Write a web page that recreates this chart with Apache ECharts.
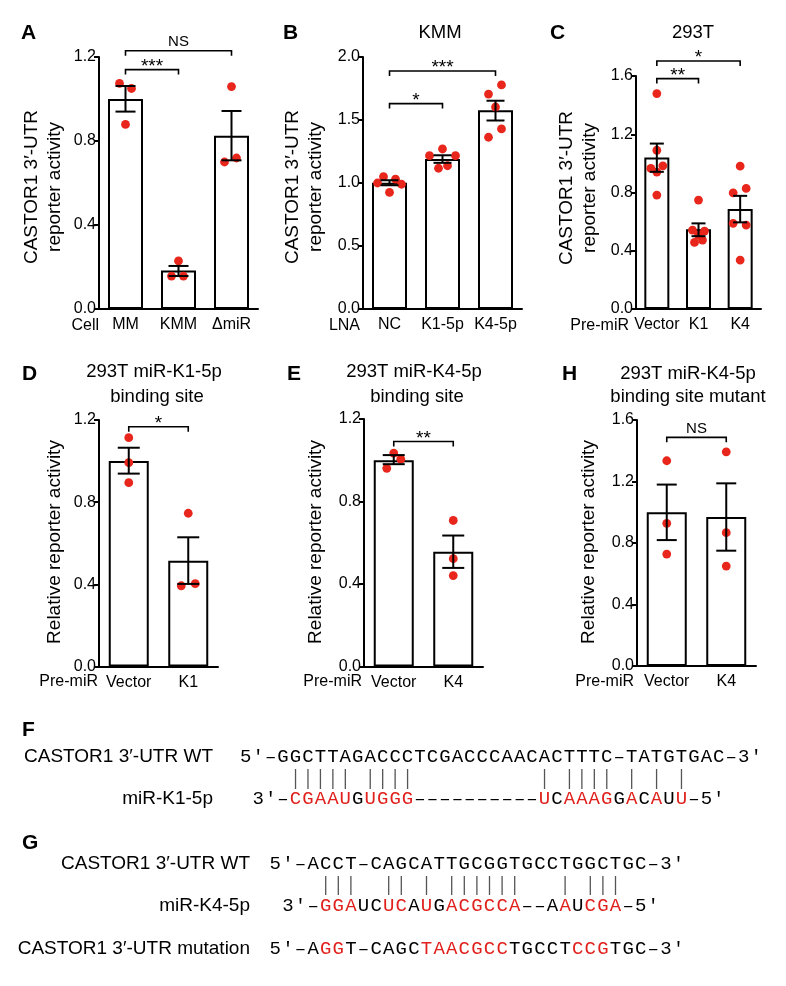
<!DOCTYPE html>
<html><head><meta charset="utf-8">
<script src="https://cdn.jsdelivr.net/npm/echarts@6/dist/echarts.min.js"></script>
<style>html,body{margin:0;padding:0;background:#fff}#c{width:786px;height:986px}</style>
</head><body><div id="c"></div><script>
// ---------------- DATA ----------------
// Panel A
const A_categories = ['MM', 'KMM', 'ΔmiR'];
const A_means = [1.00, 0.183, 0.825];
const A_errLow = [0.940, 0.157, 0.708];
const A_errHigh = [1.062, 0.205, 0.943];
const A_points = [[1.074, 1.050, 0.879], [0.229, 0.157, 0.157], [1.059, 0.700, 0.719]];
const A_yTicks = [0.0, 0.4, 0.8, 1.2];
const A_sigPairs = [[0, 2], [0, 1]];
const A_sigLevels = [1.23, 1.14];
const A_sigLabels = ['NS', '***'];

// Panel B
const B_categories = ['NC', 'K1-5p', 'K4-5p'];
const B_means = [1.002, 1.190, 1.577];
const B_errLow = [0.982, 1.160, 1.496];
const B_errHigh = [1.022, 1.220, 1.653];
const B_points = [[1.00, 1.05, 0.925, 1.03, 0.99], [1.217, 1.27, 1.217, 1.117, 1.137], [1.706, 1.778, 1.603, 1.429, 1.363]];
const B_yTicks = [0.0, 0.5, 1.0, 1.5, 2.0];
const B_sigPairs = [[0, 2], [0, 1]];
const B_sigLevels = [1.889, 1.63];
const B_sigLabels = ['***', '*'];

// Panel C
const C_categories = ['Vector', 'K1', 'K4'];
const C_means = [1.040, 0.547, 0.686];
const C_errLow = [0.942, 0.500, 0.595];
const C_errHigh = [1.136, 0.588, 0.777];
const C_points = [[1.479, 1.09, 0.965, 0.983, 0.782, 0.94], [0.748, 0.542, 0.535, 0.457, 0.473, 0.508], [0.981, 0.798, 0.828, 0.588, 0.576, 0.336]];
const C_yTicks = [0.0, 0.4, 0.8, 1.2, 1.6];
const C_sigPairs = [[0, 2], [0, 1]];
const C_sigLevels = [1.703, 1.582];
const C_sigLabels = ['*', '**'];

// Panel D
const D_categories = ['Vector', 'K1'];
const D_means = [1.000, 0.515];
const D_errLow = [0.939, 0.402];
const D_errHigh = [1.065, 0.629];
const D_points = [[1.114, 0.992, 0.895], [0.746, 0.393, 0.403]];
const D_yTicks = [0.0, 0.4, 0.8, 1.2];
const D_sigPairs = [[0, 1]];
const D_sigLevels = [1.167];
const D_sigLabels = ['*'];

// Panel E
const E_categories = ['Vector', 'K4'];
const E_means = [1.000, 0.556];
const E_errLow = [0.981, 0.478];
const E_errHigh = [1.025, 0.635];
const E_points = [[1.035, 1.005, 0.961], [0.708, 0.523, 0.441]];
const E_yTicks = [0.0, 0.4, 0.8, 1.2];
const E_sigPairs = [[0, 1]];
const E_sigLevels = [1.091];
const E_sigLabels = ['**'];

// Panel H
const H_categories = ['Vector', 'K4'];
const H_means = [1.000, 0.969];
const H_errLow = [0.819, 0.750];
const H_errHigh = [1.180, 1.188];
const H_points = [[1.335, 0.928, 0.728], [1.393, 0.867, 0.650]];
const H_yTicks = [0.0, 0.4, 0.8, 1.2, 1.6];
const H_sigPairs = [[0, 1]];
const H_sigLevels = [1.487];
const H_sigLabels = ['NS'];

// Sequences (F, G)
const F_wt = "5′-GGCTTAGACCCTCGACCCAACACTTTC-TATGTGAC-3′";
const F_mir = "3′-CGAAUGUGGG----------UCAAAGGACAUU-5′";
const F_mirRed = "...rrrrr.rrrr..........r.rrrr.r.r.r...";
const F_pairs = [4, 5, 6, 7, 8, 10, 11, 12, 13, 24, 26, 27, 28, 29, 31, 33, 35];
const G_wt = "5′-ACCT-CAGCATTGCGGTGCCTGGCTGC-3′";
const G_mir = "3′-GGAUCUCAUGACGCCA--AAUCGA-5′";
const G_mirRed = "...rrr..rr.r.rrrrrr...r.rrr...";
const G_mut = "5′-AGGT-CAGCTAACGCCTGCCTCCGTGC-3′";
const G_mutRed = "....rr......rrrrrrr.....rrr......";
const G_pairs = [4, 5, 6, 9, 10, 12, 14, 15, 16, 17, 18, 19, 23, 25, 26, 27];

// ---------------- LAYOUT / STYLE ----------------
const RED = '#e8261b';
const SEQ_RED = '#e0201c';
const SANS = "'Liberation Sans', Arial, Helvetica, sans-serif";
const NARROW = "'Liberation Sans Narrow', 'Liberation Sans', Arial, sans-serif";
const MONO = "'Liberation Mono', 'DejaVu Sans Mono', monospace";

const A_jitter = [[-6, 6, 0], [0, -7, 5], [0, -7, 5]];
const B_jitter = [[-12, -6, 0, 6, 12], [-13, 0, 13, -4, 5], [-7, 6, 0, 6, -7]];
const C_jitter = [[0, 0, -6, 6, 0, 0], [0, -6, 6, -4, 4, 0], [0, -7, 6, -7, 6, 0]];
const D_jitter = [[0, 0, 0], [0, -7, 7]];
const E_jitter = [[0, 7, -7], [0, 0, 0]];
const H_jitter = [[0, 0, 0], [0, 0, 0]];

const panels = [
  {cats: A_categories, means: A_means, lo: A_errLow, hi: A_errHigh, pts: A_points, jit: A_jitter, ticks: A_yTicks,
   sp: A_sigPairs, sl: A_sigLevels, st: A_sigLabels, grid: {left: 99, top: 57, width: 159, height: 252}, barW: 35, capW: 20, font: SANS},
  {cats: B_categories, means: B_means, lo: B_errLow, hi: B_errHigh, pts: B_points, jit: B_jitter, ticks: B_yTicks,
   sp: B_sigPairs, sl: B_sigLevels, st: B_sigLabels, grid: {left: 363, top: 57, width: 159, height: 252}, barW: 35, capW: 18, font: SANS},
  {cats: C_categories, means: C_means, lo: C_errLow, hi: C_errHigh, pts: C_points, jit: C_jitter, ticks: C_yTicks,
   sp: C_sigPairs, sl: C_sigLevels, st: C_sigLabels, grid: {left: 636, top: 76, width: 125, height: 233}, barW: 25, capW: 14, font: SANS},
  {cats: D_categories, means: D_means, lo: D_errLow, hi: D_errHigh, pts: D_points, jit: D_jitter, ticks: D_yTicks,
   sp: D_sigPairs, sl: D_sigLevels, st: D_sigLabels, grid: {left: 99, top: 420, width: 119, height: 246.5}, barW: 40, capW: 22, font: NARROW},
  {cats: E_categories, means: E_means, lo: E_errLow, hi: E_errHigh, pts: E_points, jit: E_jitter, ticks: E_yTicks,
   sp: E_sigPairs, sl: E_sigLevels, st: E_sigLabels, grid: {left: 364, top: 419, width: 119, height: 247.5}, barW: 40, capW: 22, font: NARROW},
  {cats: H_categories, means: H_means, lo: H_errLow, hi: H_errHigh, pts: H_points, jit: H_jitter, ticks: H_yTicks,
   sp: H_sigPairs, sl: H_sigLevels, st: H_sigLabels, grid: {left: 637, top: 420, width: 119, height: 246}, barW: 40, capW: 20, font: NARROW}
];

const grids = [], xAxes = [], yAxes = [], series = [];
panels.forEach((p, i) => {
  grids.push(Object.assign({}, p.grid));
  xAxes.push({
    type: 'category', gridIndex: i, data: p.cats,
    axisLine: {lineStyle: {color: '#000', width: 2}},
    axisTick: {show: false},
    axisLabel: {color: '#000', fontSize: 16, margin: 8, interval: 0, fontFamily: p.font}
  });
  yAxes.push({
    type: 'value', gridIndex: i, min: p.ticks[0], max: p.ticks[p.ticks.length - 1],
    interval: p.ticks[1] - p.ticks[0],
    axisLine: {show: true, lineStyle: {color: '#000', width: 2}},
    axisTick: {show: true, length: 5, lineStyle: {color: '#000', width: 2}},
    axisLabel: {color: '#000', fontSize: 16, margin: 3, fontFamily: p.font, formatter: v => v.toFixed(1)},
    splitLine: {show: false}
  });
  series.push({
    type: 'bar', xAxisIndex: i, yAxisIndex: i, data: p.means, barWidth: p.barW, silent: true, z: 2,
    itemStyle: {color: '#fff', borderColor: '#000', borderWidth: 2}
  });
  const dots = [];
  p.pts.forEach((arr, c) => arr.forEach((v, k) => dots.push([c, v, p.jit[c][k]])));
  series.push({
    type: 'custom', xAxisIndex: i, yAxisIndex: i, data: dots, z: 3, silent: true, encode: {x: 0, y: 1},
    renderItem: (params, api) => {
      const pt = api.coord([api.value(0), api.value(1)]);
      return {type: 'circle', shape: {cx: pt[0] + api.value(2), cy: pt[1], r: 4.4}, style: {fill: RED}};
    }
  });
  const cap = p.capW / 2;
  series.push({
    type: 'custom', xAxisIndex: i, yAxisIndex: i, z: 4, silent: true, encode: {x: 0, y: [1, 2]},
    data: p.means.map((m, c) => [c, p.lo[c], p.hi[c]]),
    renderItem: (params, api) => {
      const a = api.coord([api.value(0), api.value(1)]);
      const b = api.coord([api.value(0), api.value(2)]);
      const st = {stroke: '#000', lineWidth: 2};
      return {type: 'group', children: [
        {type: 'line', shape: {x1: a[0], y1: a[1], x2: b[0], y2: b[1]}, style: st},
        {type: 'line', shape: {x1: a[0] - cap, y1: a[1], x2: a[0] + cap, y2: a[1]}, style: st},
        {type: 'line', shape: {x1: b[0] - cap, y1: b[1], x2: b[0] + cap, y2: b[1]}, style: st}
      ]};
    }
  });
  series.push({
    type: 'custom', xAxisIndex: i, yAxisIndex: i, z: 5, silent: true, clip: false, encode: {x: 0, y: 1},
    data: p.sp.map((pr, k) => [pr[0], p.sl[k], pr[1]]),
    renderItem: (params, api) => {
      const a = api.coord([api.value(0), api.value(1)]);
      const b = api.coord([api.value(2), api.value(1)]);
      const lab = p.st[params.dataIndex];
      const isNS = lab === 'NS';
      const st = {stroke: '#000', lineWidth: 1.6, fill: null};
      return {type: 'group', children: [
        {type: 'polyline', shape: {points: [[a[0], a[1] + 5], [a[0], a[1]], [b[0], b[1]], [b[0], b[1] + 5]]}, style: st},
        {type: 'text', x: (a[0] + b[0]) / 2, y: isNS ? a[1] - 9 : a[1] - 3,
         style: {text: lab, fill: '#000', fontFamily: SANS, fontSize: isNS ? 15 : 19,
                 align: 'center', verticalAlign: 'middle', textAlign: 'center', textVerticalAlign: 'middle'}}
      ]};
    }
  });
});

// ---------------- TEXT GRAPHICS ----------------
const graphics = [];
function txt(text, x, y, o) {
  o = o || {};
  graphics.push({
    type: 'text', x: x, y: y, rotation: o.rot || 0, silent: true,
    style: {text: text, fill: o.fill || '#000', fontFamily: o.font || SANS, fontSize: o.size || 19,
            fontWeight: o.weight || 'normal', align: o.align || 'center', verticalAlign: 'middle',
            textAlign: o.align || 'center', textVerticalAlign: 'middle'}
  });
}
// panel letters
[['A', 21, 33], ['B', 283, 33], ['C', 550, 33], ['D', 22, 374], ['E', 287, 374], ['H', 562, 374], ['F', 22, 730], ['G', 22, 843]]
  .forEach(l => txt(l[0], l[1], l[2], {align: 'left', weight: 'bold', size: 21}));
// titles
txt('KMM', 440, 33, {size: 18.5});
txt('293T', 693, 33, {size: 18.5});
txt('293T miR-K1-5p', 154, 372, {size: 18.5});
txt('binding site', 157, 397, {size: 18.5});
txt('293T miR-K4-5p', 414, 372, {size: 18.5});
txt('binding site', 417, 397, {size: 18.5});
txt('293T miR-K4-5p', 688, 374, {size: 18.5});
txt('binding site mutant', 688, 397, {size: 18.5});
// y axis titles
const R = Math.PI / 2;
[[32, 55, 187], [293, 316, 187], [567, 590, 188]].forEach(t => {
  txt('CASTOR1 3′-UTR', t[0], t[2], {rot: R});
  txt('reporter activity', t[1], t[2], {rot: R});
});
[[55, 542], [316, 542], [589, 542]].forEach(t => txt('Relative reporter activity', t[0], t[1], {rot: R}));
// row labels of x axes
txt('Cell', 99, 326, {align: 'right', size: 16});
txt('LNA', 360, 326, {align: 'right', size: 16});
txt('Pre-miR', 629, 326, {align: 'right', size: 16});
txt('Pre-miR', 98, 682, {align: 'right', size: 16, font: NARROW});
txt('Pre-miR', 362, 682, {align: 'right', size: 16, font: NARROW});
txt('Pre-miR', 634, 682, {align: 'right', size: 16, font: NARROW});

// sequences
function seq(str, mask, x0, y, cw) {
  for (let i = 0; i < str.length; i++) {
    const ch = str[i] === '-' ? '–' : str[i];
    const red = mask && mask[i] === 'r';
    txt(ch, x0 + (i + 0.5) * cw, y, {font: MONO, size: 19, fill: red ? SEQ_RED : '#000'});
  }
}
function pairs(idx, x0, cw, y1, y2) {
  idx.forEach(i => graphics.push({type: 'line', silent: true,
    shape: {x1: x0 + (i + 0.5) * cw, y1: y1, x2: x0 + (i + 0.5) * cw, y2: y2},
    style: {stroke: '#555', lineWidth: 1.3}}));
}
const fcw = 12.45, gcw = 12.6;
txt('CASTOR1 3′-UTR WT', 213, 757, {align: 'right'});
txt('miR-K1-5p', 213, 799, {align: 'right'});
seq(F_wt, null, 239.5, 757, fcw);
pairs(F_pairs, 239.5, fcw, 769, 789);
seq(F_mir, F_mirRed, 239.5 + fcw, 799, fcw);

txt('CASTOR1 3′-UTR WT', 250, 864, {align: 'right'});
txt('miR-K4-5p', 250, 906, {align: 'right'});
txt('CASTOR1 3′-UTR mutation', 250, 949, {align: 'right'});
seq(G_wt, null, 269, 864, gcw);
pairs(G_pairs, 269, gcw, 876, 895);
seq(G_mir, G_mirRed, 269 + gcw, 906, gcw);
seq(G_mut, G_mutRed, 269, 949, gcw);

const chart = echarts.init(document.getElementById('c'), null, {renderer: 'canvas'});
chart.setOption({
  animation: false,
  backgroundColor: '#fff',
  textStyle: {fontFamily: SANS},
  grid: grids, xAxis: xAxes, yAxis: yAxes, series: series, graphic: graphics
});
</script></body></html>
